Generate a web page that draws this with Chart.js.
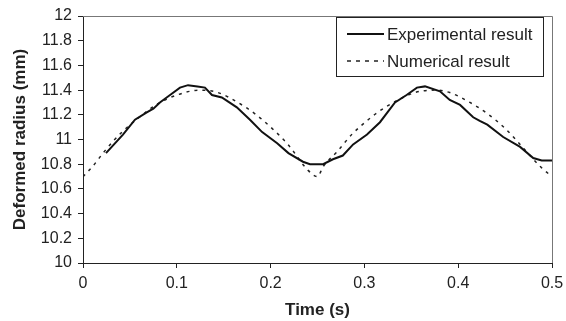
<!DOCTYPE html>
<html>
<head>
<meta charset="utf-8">
<script src="https://cdn.jsdelivr.net/npm/chart.js@4/dist/chart.umd.min.js"></script>
<style>
  html, body { margin: 0; padding: 0; background: #fff; }
  #wrap { width: 566px; height: 321px; }
</style>
</head>
<body>
<div id="wrap"><canvas id="chart" width="566" height="321"></canvas></div>
<script>
const expTime = [0.0245, 0.0426, 0.0554, 0.068, 0.075, 0.082, 0.0928, 0.1034, 0.112, 0.122, 0.130, 0.1375, 0.148, 0.156, 0.164, 0.178, 0.191, 0.207, 0.219, 0.2345, 0.242, 0.256, 0.2665, 0.277, 0.288, 0.3028, 0.3166, 0.3326, 0.345, 0.356, 0.3646, 0.3806, 0.391, 0.402, 0.416, 0.423, 0.431, 0.448, 0.466, 0.480, 0.489, 0.5];
const expRadius = [10.89, 11.04, 11.16, 11.22, 11.25, 11.30, 11.36, 11.42, 11.44, 11.43, 11.42, 11.36, 11.34, 11.30, 11.26, 11.16, 11.06, 10.97, 10.89, 10.82, 10.80, 10.80, 10.84, 10.87, 10.96, 11.04, 11.14, 11.30, 11.36, 11.42, 11.43, 11.39, 11.32, 11.28, 11.18, 11.15, 11.12, 11.02, 10.94, 10.85, 10.83, 10.83];

// Numerical result
const numTime = [0, 0.01, 0.0235, 0.0415, 0.06, 0.08, 0.1, 0.125, 0.144, 0.165, 0.183, 0.2015, 0.2185, 0.24, 0.25, 0.256, 0.2707, 0.2865, 0.304, 0.322, 0.354, 0.375, 0.391, 0.4125, 0.431, 0.45, 0.466, 0.489, 0.5];
const numRadius = [10.70, 10.78, 10.91, 11.06, 11.18, 11.29, 11.36, 11.40, 11.38, 11.30, 11.21, 11.09, 10.96, 10.75, 10.70, 10.78, 10.90, 11.04, 11.16, 11.26, 11.38, 11.40, 11.38, 11.30, 11.21, 11.09, 10.96, 10.77, 10.70];

const seriesNames = ['Experimental result', 'Numerical result'];
const xTicks = [0, 0.1, 0.2, 0.3, 0.4, 0.5];
const yTicks = [10, 10.2, 10.4, 10.6, 10.8, 11, 11.2, 11.4, 11.6, 11.8, 12];

const FONT = "'Liberation Sans', Arial, sans-serif";

function toPoints(xs, ys) {
  return xs.map((x, i) => ({ x: x, y: ys[i] }));
}

// top/right frame of the plot area
const framePlugin = {
  id: 'frame',
  afterDraw(chart) {
    const { ctx, chartArea: a } = chart;
    ctx.save();
    ctx.strokeStyle = '#777';
    ctx.lineWidth = 1;
    ctx.beginPath();
    ctx.moveTo(a.left, a.top + 0.5);
    ctx.lineTo(a.right + 0.5, a.top + 0.5);
    ctx.lineTo(a.right + 0.5, a.bottom);
    ctx.stroke();
    ctx.restore();
  }
};

// legend box inside the plot area
const boxLegend = {
  id: 'boxLegend',
  afterDraw(chart) {
    const { ctx, chartArea: a } = chart;
    const x = a.right - 216, y = a.top + 1, w = 207, h = 59;
    ctx.save();
    ctx.fillStyle = '#fff';
    ctx.fillRect(x, y, w, h);
    ctx.strokeStyle = '#222';
    ctx.lineWidth = 1;
    ctx.strokeRect(x + 0.5, y + 0.5, w, h);
    ctx.font = '17px ' + FONT;
    ctx.textBaseline = 'middle';
    chart.data.datasets.forEach((ds, i) => {
      const ly = y + 17 + i * 27;
      ctx.beginPath();
      ctx.strokeStyle = ds.borderColor;
      ctx.lineWidth = ds.borderWidth;
      ctx.setLineDash(ds.borderDash ? [4, 5] : []);
      ctx.moveTo(x + 11, ly);
      ctx.lineTo(x + 48, ly);
      ctx.stroke();
      ctx.setLineDash([]);
      ctx.fillStyle = '#222';
      ctx.fillText(ds.label, x + 51, ly + 1);
    });
    ctx.restore();
  }
};

new Chart(document.getElementById('chart'), {
  type: 'line',
  data: {
    datasets: [
      {
        label: seriesNames[0],
        data: toPoints(expTime, expRadius),
        borderColor: '#111',
        borderWidth: 2,
        pointRadius: 0,
        tension: 0
      },
      {
        label: seriesNames[1],
        data: toPoints(numTime, numRadius),
        borderColor: '#222',
        borderWidth: 1.5,
        borderDash: [3, 5],
        pointRadius: 0,
        cubicInterpolationMode: 'monotone'
      }
    ]
  },
  options: {
    responsive: false,
    animation: false,
    layout: { padding: { top: 16, right: 14, left: 0, bottom: 0 } },
    plugins: { legend: { display: false }, tooltip: { enabled: false } },
    scales: {
      x: {
        type: 'linear',
        min: 0, max: 0.5,
        afterBuildTicks: s => { s.ticks = xTicks.map(v => ({ value: v })); },
        afterFit: s => { s.height = 58; s.paddingLeft = 0; s.paddingRight = 0; },
        grid: { drawOnChartArea: false, tickLength: 5, color: '#222' },
        border: { color: '#222', width: 1 },
        ticks: { color: '#222', font: { family: FONT, size: 16 }, padding: 6, maxRotation: 0,
                 callback: v => String(v) },
        title: { display: true, text: 'Time (s)', color: '#222',
                 font: { family: FONT, size: 17, weight: 'bold' }, padding: { top: 0, bottom: 0 } }
      },
      y: {
        min: 10, max: 12,
        afterBuildTicks: s => { s.ticks = yTicks.map(v => ({ value: v })); },
        afterFit: s => { s.width = 83; s.paddingTop = 0; s.paddingBottom = 0; },
        grid: { drawOnChartArea: false, tickLength: 5, color: '#222' },
        border: { color: '#222', width: 1 },
        ticks: { color: '#222', font: { family: FONT, size: 16 }, padding: 6,
                 callback: v => String(Math.round(v * 10) / 10) },
        title: { display: true, text: 'Deformed radius (mm)', color: '#222',
                 font: { family: FONT, size: 17, weight: 'bold' }, padding: { top: 10, bottom: 0 } }
      }
    }
  },
  plugins: [framePlugin, boxLegend]
});
</script>
</body>
</html>
